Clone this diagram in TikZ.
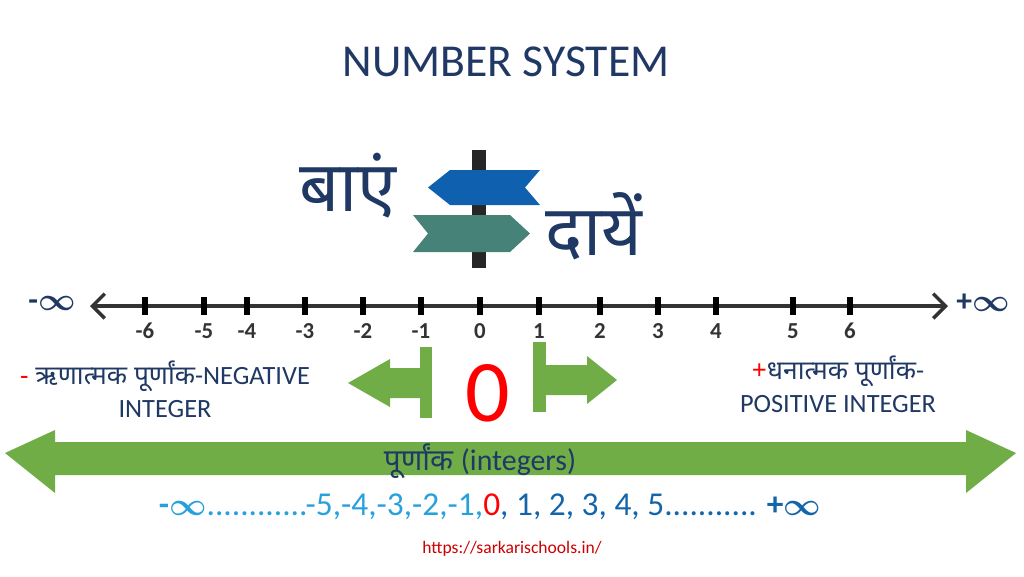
\documentclass[tikz,border=0pt]{standalone}
\usepackage{amsmath,amssymb}
\usepackage{fontspec}
\setmainfont{Carlito}
\newfontfamily\hindi[Script=Devanagari]{Noto Sans}
\usetikzlibrary{arrows.meta}
\definecolor{navy}{RGB}{31,56,100}
\definecolor{leafgreen}{RGB}{112,173,71}
\definecolor{signblue}{RGB}{16,96,176}
\definecolor{signteal}{RGB}{70,130,120}
\definecolor{skyblue}{RGB}{40,160,220}
\definecolor{deepblue}{RGB}{20,100,170}
\newcommand{\lat}[1]{{\fontspec{Carlito}#1}}
\tikzset{
  tick/.style={line width=1.6pt},
  ticklabel/.style={font=\fontsize{6.5}{8}\selectfont\bfseries, text=black!80},
  hinditext/.style={font=\hindi\fontsize{7.5}{9.5}\selectfont, text=navy, align=center},
  infty/.style={font=\fontsize{9}{10}\selectfont\bfseries, text=navy}
}
\begin{document}
\begin{tikzpicture}[x=1cm,y=-1cm]
\useasboundingbox (0,0) rectangle (10.24,5.76);
% title
\node[font=\fontsize{13}{15}\selectfont, text=navy] (title) at (5.06,0.62) {NUMBER SYSTEM};
% signpost
\draw[line width=4pt, black!85] (4.79,1.50) -- (4.79,2.68);
\fill[signblue] (4.28,1.875) -- (4.50,1.70) -- (5.40,1.70) -- (5.25,1.875) -- (5.40,2.05) -- (4.50,2.05) -- cycle;
\fill[signteal] (4.13,2.15) -- (5.10,2.15) -- (5.30,2.335) -- (5.10,2.52) -- (4.13,2.52) -- (4.28,2.335) -- cycle;
\node[font=\hindi\fontsize{20}{22}\selectfont, text=navy] (left) at (3.48,1.86) {बाएं};
\node[font=\hindi\fontsize{20}{22}\selectfont, text=navy] (right) at (5.94,2.26) {दायें};
% number line
\coordinate (lstart) at (0.90,3.06);
\coordinate (lend) at (9.48,3.06);
\draw[{Straight Barb[length=3.5pt]}-{Straight Barb[length=3.5pt]}, line width=1pt, black!80] (lstart) -- (lend);
\foreach \v/\x in {-6/1.45,-5/2.04,-4/2.47,-3/3.05,-2/3.63,-1/4.21,0/4.80,1/5.39,2/6.00,3/6.58,4/7.16,5/7.93,6/8.50}{
  \draw[tick] (\x,2.97) -- (\x,3.15);
  \node[ticklabel] (n\v) at (\x,3.31) {\v};
}
\node[infty] (minf) at (0.52,3.03) {-$\boldsymbol\infty$};
\node[infty] (pinf) at (9.83,3.03) {+$\boldsymbol\infty$};
% zero and arrows
\fill[leafgreen] (4.20,3.47) rectangle (4.32,4.18);
\fill[leafgreen] (4.20,3.68) -- (3.90,3.68) -- (3.90,3.59) -- (3.48,3.83) -- (3.90,4.07) -- (3.90,3.98) -- (4.20,3.98) -- cycle;
\fill[leafgreen] (5.33,3.42) rectangle (5.46,4.12);
\fill[leafgreen] (5.46,3.65) -- (5.87,3.65) -- (5.87,3.56) -- (6.17,3.80) -- (5.87,4.04) -- (5.87,3.95) -- (5.46,3.95) -- cycle;
\node[font=\fontsize{25}{28}\selectfont, text=red] (zero) at (4.88,3.93) {0};
\node[hinditext] (neg) at (1.65,3.89) {\textcolor{red}{-} ऋणात्मक पूर्णांक\lat{-NEGATIVE}\\\lat{INTEGER}};
\node[hinditext] (pos) at (8.38,3.84) {\textcolor{red}{+}धनात्मक पूर्णांक\lat{-}\\\lat{POSITIVE INTEGER}};
% integers band
\fill[leafgreen] (0.05,4.53) -- (0.55,4.30) -- (0.55,4.42) -- (9.66,4.42) -- (9.66,4.30) -- (10.16,4.53) -- (9.66,4.93) -- (9.66,4.75) -- (0.55,4.75) -- (0.55,4.93) -- cycle;
\node[hinditext, font=\hindi\fontsize{8.5}{10}\selectfont] (band) at (4.80,4.61) {पूर्णांक \lat{(integers)}};
\node[font=\fontsize{9.5}{11}\selectfont] (seq) at (4.90,5.07) {\textcolor{skyblue}{\textbf{-$\boldsymbol\infty$}............-5,-4,-3,-2,-1,}\textcolor{red}{0}\textcolor{deepblue}{, 1, 2, 3, 4, 5........... \textbf{+$\boldsymbol\infty$}}};
\node[font=\fontsize{5}{6}\selectfont, text=red!80!black] (url) at (5.12,5.49) {https://sarkarischools.in/};
\end{tikzpicture}
\end{document}
